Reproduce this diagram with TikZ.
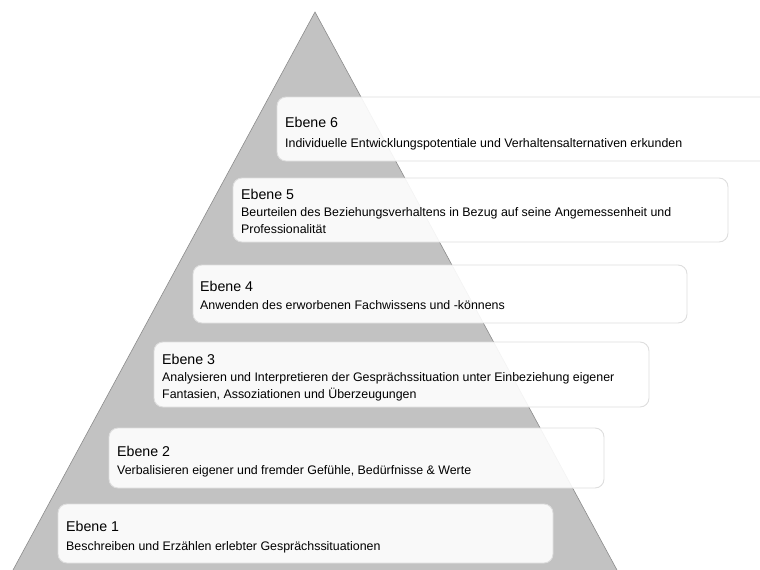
\documentclass[tikz,border=0pt]{standalone}
\usepackage{fontspec}
\setmainfont{Liberation Sans}
\definecolor{pyr}{RGB}{194,194,194}
\definecolor{pyredge}{RGB}{140,140,140}
\definecolor{boxline}{RGB}{222,222,222}
\begin{document}
\begin{tikzpicture}[x=1pt,y=-1pt,
  box/.style={draw=boxline, line width=0.9pt, rounded corners=9pt, fill=white, fill opacity=0.9, anchor=north west, inner sep=0pt, outer sep=0pt},
  ttl/.style={anchor=base west, inner sep=0pt, font=\fontsize{14.2}{16}\selectfont, text=black},
  txt/.style={anchor=base west, inner sep=0pt, font=\fontsize{12.4}{14}\selectfont, text=black},
]
\useasboundingbox (0,0) rectangle (760,570);
\clip (0,0) rectangle (760,570);
% pyramid
\coordinate (apex) at (315,12);
\coordinate (bl) at (7.6,580);
\coordinate (br) at (622.4,580);
\fill[pyr] (apex) -- (bl) -- (br) -- cycle;
\draw[pyredge, line width=0.6pt] (bl) -- (apex) -- (br);
% boxes
\node[box, minimum width=503pt, minimum height=64pt] (e6) at (277,97) {};
\node[box, minimum width=495pt, minimum height=64pt] (e5) at (233,178) {};
\node[box, minimum width=494pt, minimum height=58pt] (e4) at (193,265) {};
\node[box, minimum width=495pt, minimum height=65pt] (e3) at (154,342) {};
\node[box, minimum width=495pt, minimum height=60pt] (e2) at (109,428) {};
\node[box, minimum width=495pt, minimum height=59pt] (e1) at (58,504) {};
% texts
\node[ttl] (t6) at (285,127) {Ebene 6};
\node[txt] (b6) at (285,147) {Individuelle Entwicklungspotentiale und Verhaltensalternativen erkunden};
\node[ttl] (t5) at (241,199) {Ebene 5};
\node[txt] (b5a) at (241,216) {Beurteilen des Beziehungsverhaltens in Bezug auf seine Angemessenheit und};
\node[txt] (b5b) at (241,233.5) {Professionalität};
\node[ttl] (t4) at (200,291.7) {Ebene 4};
\node[txt] (b4) at (200,309.3) {Anwenden des erworbenen Fachwissens und -könnens};
\node[ttl] (t3) at (162,364) {Ebene 3};
\node[txt] (b3a) at (162,381.7) {Analysieren und Interpretieren der Gesprächssituation unter Einbeziehung eigener};
\node[txt] (b3b) at (162,398.3) {Fantasien, Assoziationen und Überzeugungen};
\node[ttl] (t2) at (117,456) {Ebene 2};
\node[txt] (b2) at (117,474.3) {Verbalisieren eigener und fremder Gefühle, Bedürfnisse \& Werte};
\node[ttl] (t1) at (66,531.7) {Ebene 1};
\node[txt] (b1) at (66,550) {Beschreiben und Erzählen erlebter Gesprächssituationen};
\end{tikzpicture}
\end{document}
